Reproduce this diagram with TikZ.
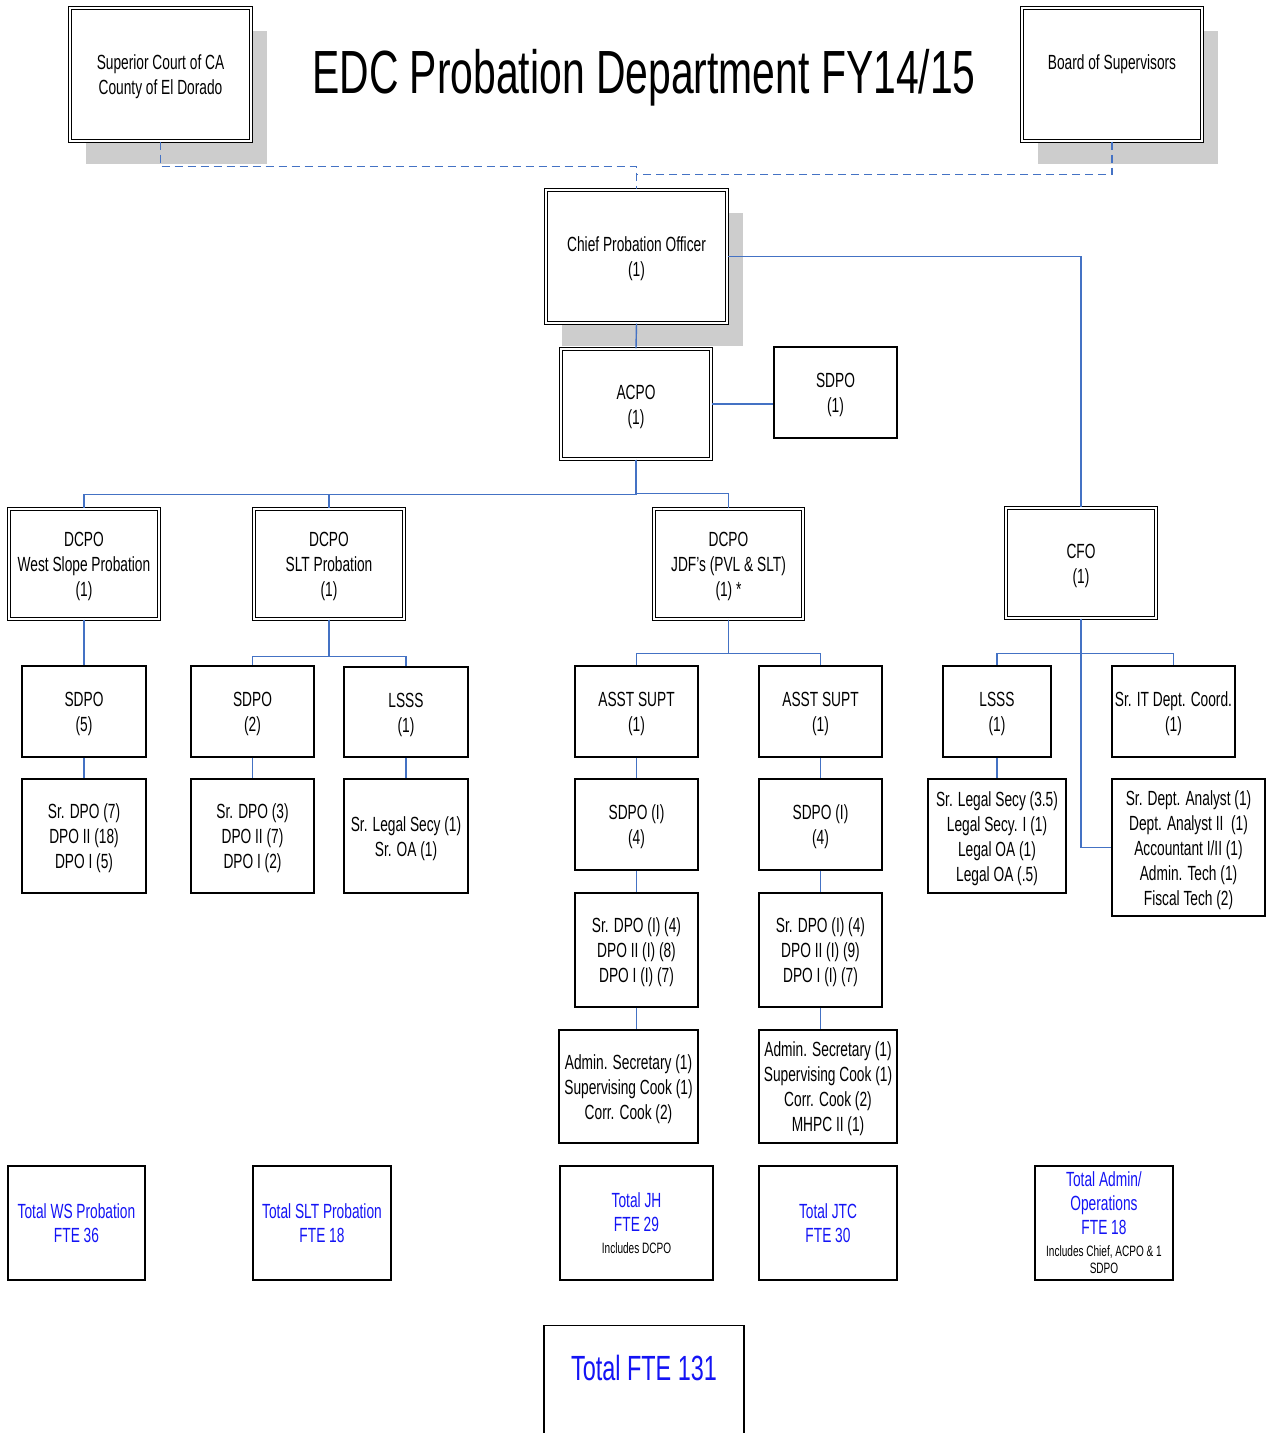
\documentclass[tikz,border=0pt]{standalone}
\usepackage{fontspec}
\setmainfont{Liberation Sans}[FakeStretch=0.67]
\usetikzlibrary{shadows}
\definecolor{connblue}{RGB}{68,114,196}
\definecolor{shadowgray}{RGB}{205,205,205}
\definecolor{totblue}{RGB}{20,20,245}
\tikzset{
  box/.style={draw=black, line width=1.4pt, fill=white, align=center, inner sep=0pt,
    font=\fontsize{20.5}{25}\selectfont},
  dblbox/.style={box, line width=1.1pt, double=white, double distance=2pt},
  shadowed/.style={drop shadow={shadow xshift=16pt, shadow yshift=-23pt, fill=shadowgray, opacity=1}},
  totbox/.style={box, text=totblue, font=\fontsize{20.5}{24}\selectfont},
  conn/.style={draw=connblue, line width=1.4pt},
  dashconn/.style={conn, dash pattern=on 8pt off 5pt},
  sz/.style 2 args={minimum width=#1pt, minimum height=#2pt},
}
\newcommand{\smalltxt}{\fontsize{15}{17}\selectfont}
\newcommand{\up}{\rule{0pt}{19.5pt}}
\begin{document}
\begin{tikzpicture}[x=1pt,y=-1pt]
\useasboundingbox (0,0) rectangle (1268,1433);
% title
\node[anchor=base, inner sep=0pt, font=\fontsize{61}{70}\selectfont] (title) at (644,93.5) {EDC Probation Department FY14/15};
% top boxes
\node[dblbox, shadowed, sz={181}{133}] (court) at (160.5,74.5) {\up Superior Court of CA\\County of El Dorado};
\node[dblbox, shadowed, sz={180}{133}] (board) at (1112,74.5) {Board of Supervisors\\\phantom{X}};
\node[dblbox, shadowed, sz={181}{133}] (cpo) at (636.5,256.5) {\up Chief Probation Officer\\(1)};
\node[dblbox, sz={150}{110}] (acpo) at (636,404) {\up ACPO\\(1)};
\node[box, sz={123}{91}] (sdpo1) at (835.5,392.5) {\up SDPO\\(1)};
% DCPO row
\node[dblbox, sz={150}{110}] (wsd) at (84,564) {\up DCPO\\West Slope Probation\\(1)};
\node[dblbox, sz={150}{110}] (sltd) at (329,564) {\up DCPO\\SLT Probation\\(1)};
\node[dblbox, sz={149}{110}] (jdf) at (728.5,564) {\up DCPO\\JDF’s (PVL \& SLT)\\(1) *};
\node[dblbox, sz={150}{110}] (cfo) at (1081,563) {\up CFO\\(1)};
% West Slope
\node[box, sz={124}{91}] (ws1) at (84,711.5) {\up SDPO\\(5)};
\node[box, sz={124}{114}] (ws2) at (84,836) {\up Sr. DPO (7)\\DPO II (18)\\DPO I (5)};
% SLT
\node[box, sz={123}{91}] (slt1) at (252.5,711.5) {\up SDPO\\(2)};
\node[box, sz={124}{90}] (sltl) at (406,712) {\up LSSS\\(1)};
\node[box, sz={123}{114}] (slt2) at (252.5,836) {\up Sr. DPO (3)\\DPO II (7)\\DPO I (2)};
\node[box, sz={124}{114}] (sltl2) at (406,836) {\up Sr. Legal Secy (1)\\Sr. OA (1)};
% JDF
\node[box, sz={123}{91}] (as1) at (636.5,711.5) {\up ASST SUPT\\(1)};
\node[box, sz={123}{91}] (as2) at (820.5,711.5) {\up ASST SUPT\\(1)};
\node[box, sz={123}{91}] (sp1) at (636.5,824.5) {\up SDPO (I)\\(4)};
\node[box, sz={123}{91}] (sp2) at (820.5,824.5) {\up SDPO (I)\\(4)};
\node[box, sz={123}{114}] (dp1) at (636.5,950) {\up Sr. DPO (I) (4)\\DPO II (I) (8)\\DPO I (I) (7)};
\node[box, sz={123}{114}] (dp2) at (820.5,950) {\up Sr. DPO (I) (4)\\DPO II (I) (9)\\DPO I (I) (7)};
\node[box, sz={139}{113}] (ad1) at (628.5,1086.5) {\up Admin. Secretary (1)\\Supervising Cook (1)\\Corr. Cook (2)};
\node[box, sz={138}{113}] (ad2) at (828,1086.5) {\up Admin. Secretary (1)\\Supervising Cook (1)\\Corr. Cook (2)\\MHPC II (1)};
% CFO
\node[box, sz={108}{91}] (cl) at (997,711.5) {\up LSSS\\(1)};
\node[box, sz={123}{91}] (cit) at (1173.5,711.5) {\up Sr. IT Dept. Coord.\\(1)};
\node[box, sz={138}{114}] (cls) at (997,836) {\up Sr. Legal Secy (3.5)\\Legal Secy. I (1)\\Legal OA (1)\\Legal OA (.5)};
\node[box, sz={153}{137}] (an) at (1188.5,847.5) {\up Sr. Dept. Analyst (1)\\Dept. Analyst II\ \ (1)\\Accountant I/II (1)\\Admin. Tech (1)\\Fiscal Tech (2)};
% totals
\node[totbox, sz={137}{114}] (tws) at (76.5,1223) {Total WS Probation\\FTE 36};
\node[totbox, sz={138}{114}] (tslt) at (322,1223) {Total SLT Probation\\FTE 18};
\node[totbox, sz={153}{114}] (tjh) at (636.5,1223) {Total JH\\FTE 29\\[-2pt]{\color{black}\smalltxt Includes DCPO}};
\node[totbox, sz={138}{114}] (tjtc) at (828,1223) {Total JTC\\FTE 30};
\node[totbox, sz={138}{114}] (tad) at (1104,1223) {Total Admin/\\Operations\\FTE 18\\[-2pt]{\color{black}\smalltxt Includes Chief, ACPO \& 1}\\[-7pt]{\color{black}\smalltxt SDPO}};
\node[box, text=totblue, anchor=north, minimum width=200pt, inner ysep=0pt, text height=55pt, text depth=80pt, font=\fontsize{35}{40}\selectfont] (tot) at (644,1325) {Total FTE 131};
% connectors
\draw[dashconn] (court.south) -- ++(0,25) -| (cpo.north);
\draw[dashconn] (board.south) -- ++(0,33) -| (cpo.north);
\draw[conn] (cpo.east) -| (cfo.north);
\draw[conn] (cpo.south) -- (acpo.north);
\draw[conn] (acpo.east) -- (acpo.east -| sdpo1.west);
\draw[conn] (acpo.south) -- ++(0,35) -| (wsd.north);
\draw[conn] (acpo.south) -- ++(0,35) -| (sltd.north);
\draw[conn] (acpo.south) -- ++(0,34) -| (jdf.north);
\draw[conn] (wsd.south) -- (ws1.north);
\draw[conn] (ws1.south) -- (ws2.north);
\draw[conn] (sltd.south) -- ++(0,37) -| (slt1.north);
\draw[conn] (sltd.south) -- ++(0,37) -| (sltl.north);
\draw[conn] (slt1.south) -- (slt2.north);
\draw[conn] (sltl.south) -- (sltl2.north);
\draw[conn] (jdf.south) -- ++(0,34) -| (as1.north);
\draw[conn] (jdf.south) -- ++(0,34) -| (as2.north);
\draw[conn] (as1.south) -- (sp1.north);
\draw[conn] (as2.south) -- (sp2.north);
\draw[conn] (sp1.south) -- (dp1.north);
\draw[conn] (sp2.south) -- (dp2.north);
\draw[conn] (dp1.south) -- (dp1.south |- ad1.north);
\draw[conn] (dp2.south) -- (dp2.south |- ad2.north);
\draw[conn] (cfo.south) -- ++(0,35) -| (cl.north);
\draw[conn] (cfo.south) -- ++(0,35) -| (cit.north);
\draw[conn] (cfo.south) |- (an.west);
\draw[conn] (cl.south) -- (cls.north);
\end{tikzpicture}
\end{document}
